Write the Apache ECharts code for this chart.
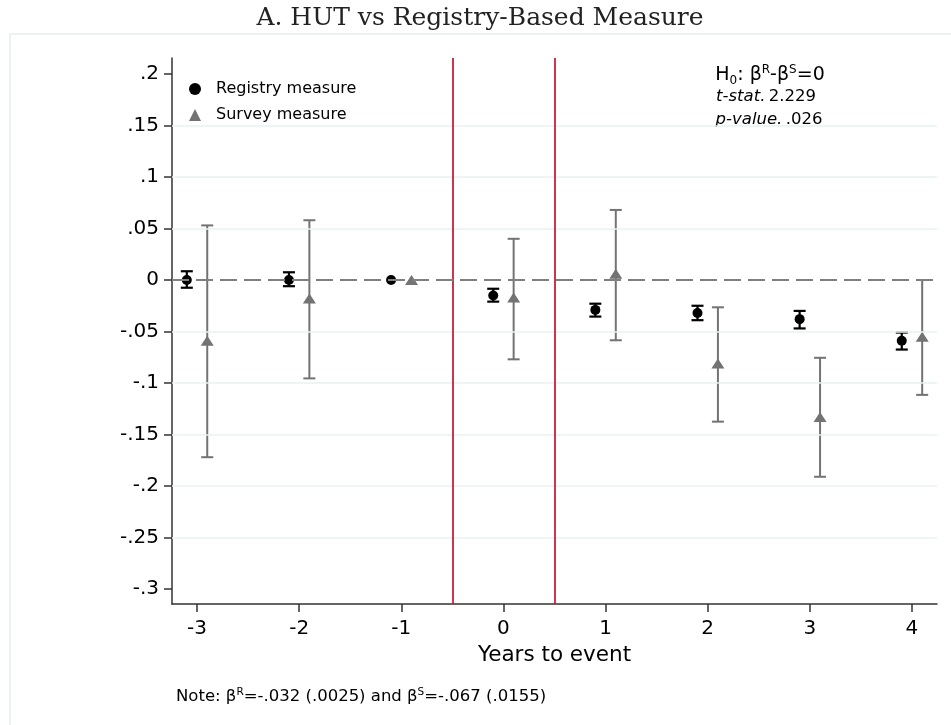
<!DOCTYPE html>
<html>
<head>
<meta charset="utf-8">
<title>HUT vs Registry-Based Measure</title>
<script src="https://cdn.jsdelivr.net/npm/echarts@6/dist/echarts.min.js"></script>
<style>
html, body { margin: 0; padding: 0; background: #fff; }
#chart_main { width: 951px; height: 725px; }
</style>
</head>
<body>
<div id="chart_main"></div>
<script>
// event-study coefficients
var years = [-3, -2, -1, 0, 1, 2, 3, 4];
var registryEst  = [0.000, 0.000, 0, -0.015, -0.029, -0.032, -0.038, -0.059];
var registryLow  = [-0.0075, -0.006, null, -0.0210, -0.0355, -0.0390, -0.0470, -0.0675];
var registryHigh = [0.0085, 0.0075, null, -0.0085, -0.0230, -0.0250, -0.0300, -0.0510];
var surveyEst  = [-0.059, -0.018, 0, -0.017, 0.006, -0.081, -0.133, -0.055];
var surveyLow  = [-0.172, -0.0955, null, -0.077, -0.0585, -0.1375, -0.191, -0.1115];
var surveyHigh = [0.053, 0.058, null, 0.040, 0.068, -0.0265, -0.0755, 0.000];

var yTicks = [-0.3, -0.25, -0.2, -0.15, -0.1, -0.05, 0, 0.05, 0.1, 0.15, 0.2];
var gridValues = [-0.25, -0.2, -0.15, -0.1, -0.05, 0.05, 0.1, 0.15];
var eventLines = [-0.5, 0.5];

var FONT = '"DejaVu Sans", "Liberation Sans", Arial, sans-serif';
var SHIFT = 0.1;
var BLACK = '#000000';
var GREY = '#737373';

function stataNum(v) {
  if (v === 0) return '0';
  return String(v).replace('0.', '.');
}

function pointData(est, dx) {
  return years.map(function (yr, i) { return [yr + dx, est[i]]; });
}
function barData(lo, hi, dx) {
  var out = [];
  years.forEach(function (yr, i) {
    if (lo[i] !== null) out.push([yr + dx, lo[i], hi[i]]);
  });
  return out;
}
function makeBarRenderer(color, width) {
  return function (params, api) {
    var lo = api.coord([api.value(0), api.value(1)]);
    var hi = api.coord([api.value(0), api.value(2)]);
    var half = 6;
    var style = { stroke: color, lineWidth: width };
    return {
      type: 'group',
      children: [
        { type: 'line', shape: { x1: lo[0], y1: lo[1], x2: hi[0], y2: hi[1] }, style: style },
        { type: 'line', shape: { x1: lo[0] - half, y1: lo[1], x2: lo[0] + half, y2: lo[1] }, style: style },
        { type: 'line', shape: { x1: hi[0] - half, y1: hi[1], x2: hi[0] + half, y2: hi[1] }, style: style }
      ]
    };
  };
}

var chart = echarts.init(document.getElementById('chart_main'), null, { renderer: 'canvas' });

var option = {
  backgroundColor: '#ffffff',
  animation: false,
  textStyle: { fontFamily: FONT },
  grid: { left: 172, right: 14, top: 58, bottom: 121, containLabel: false },
  legend: {
    orient: 'vertical',
    left: 184,
    top: 76,
    itemGap: 10,
    itemWidth: 12,
    itemHeight: 12,
    selectedMode: false,
    textStyle: { fontSize: 16, color: '#000', fontFamily: FONT, padding: [0, 0, 0, 10] },
    data: [
      { name: 'Registry measure', icon: 'circle' },
      { name: 'Survey measure', icon: 'triangle' }
    ]
  },
  xAxis: {
    type: 'value',
    min: -3.245,
    max: 4.245,
    name: 'Years to event',
    nameLocation: 'middle',
    nameGap: 40,
    nameTextStyle: { fontSize: 21.5, color: '#000', fontFamily: FONT },
    axisLine: { show: true, onZero: false, lineStyle: { color: '#333', width: 1.5 } },
    axisTick: { show: true, length: 8, lineStyle: { color: '#333', width: 1.5 }, customValues: years },
    axisLabel: { fontSize: 20, color: '#000', margin: 15, customValues: years, formatter: function (v) { return String(v); } },
    splitLine: { show: false }
  },
  yAxis: {
    type: 'value',
    min: -0.3145,
    max: 0.2155,
    axisLine: { show: true, onZero: false, lineStyle: { color: '#333', width: 1.5 } },
    axisTick: { show: true, length: 8, lineStyle: { color: '#333', width: 1.5 }, customValues: yTicks },
    axisLabel: { fontSize: 20, color: '#000', margin: 13, customValues: yTicks, formatter: stataNum },
    splitLine: { show: false }
  },
  graphic: [
    {
      type: 'rect', z: -10, silent: true,
      shape: { x: 10, y: 34, width: 960, height: 720 },
      style: { fill: 'none', stroke: '#e6eef1', lineWidth: 1.5 }
    },
    {
      type: 'text', x: 480, y: 18,
      style: { text: 'A. HUT vs Registry-Based Measure', font: '25px "DejaVu Serif", serif', fill: '#222', textAlign: 'center', textVerticalAlign: 'middle' }
    },
    {
      // H0 line: tall main box so the small parts sit above/below it
      type: 'text', x: 770, y: 75,
      style: {
        text: '{m|H}{sub|0}{m|: β}{sup|R}{m|-β}{sup|S}{m|=0}',
        textAlign: 'center', textVerticalAlign: 'middle',
        rich: {
          m: { fontSize: 19, lineHeight: 23, fontFamily: FONT, fill: '#000' },
          sub: { fontSize: 12, lineHeight: 12, fontFamily: FONT, fill: '#000', verticalAlign: 'bottom' },
          sup: { fontSize: 12, lineHeight: 12, fontFamily: FONT, fill: '#000', verticalAlign: 'top' }
        }
      }
    },
    {
      type: 'text', x: 766, y: 97,
      style: {
        text: '{i|t-stat.} {n|2.229}', textAlign: 'center', textVerticalAlign: 'middle',
        rich: { i: { fontSize: 16.5, fontStyle: 'italic', fontFamily: FONT }, n: { fontSize: 16.5, fontFamily: FONT } }
      }
    },
    {
      type: 'text', x: 769, y: 120,
      style: {
        text: '{i|p-value.} {n|.026}', textAlign: 'center', textVerticalAlign: 'middle',
        rich: { i: { fontSize: 16.5, fontStyle: 'italic', fontFamily: FONT }, n: { fontSize: 16.5, fontFamily: FONT } }
      }
    },
    {
      type: 'text', x: 176, y: 697,
      style: {
        text: '{m|Note: β}{sup|R}{m|=-.032 (.0025) and β}{sup|S}{m|=-.067 (.0155)}',
        textAlign: 'left', textVerticalAlign: 'middle',
        rich: {
          m: { fontSize: 16.5, lineHeight: 21, fontFamily: FONT, fill: '#000' },
          sup: { fontSize: 10.5, lineHeight: 10.5, fontFamily: FONT, fill: '#000', verticalAlign: 'top' }
        }
      }
    }
  ],
  series: [
    {
      name: 'refs',
      type: 'line',
      data: [],
      z: 1,
      silent: true,
      markLine: {
        silent: true,
        symbol: 'none',
        label: { show: false },
        animation: false,
        data: gridValues.map(function (v) {
          return { yAxis: v, lineStyle: { color: '#eaf0f3', width: 1.5, type: 'solid' } };
        }).concat(eventLines.map(function (v) {
          return { xAxis: v, lineStyle: { color: '#c8203a', width: 1.8, type: 'solid' } };
        })).concat([
          { yAxis: 0, lineStyle: { color: '#808080', width: 2, type: [17, 7] } }
        ])
      }
    },
    {
      name: 'registryCI',
      type: 'custom',
      z: 3,
      renderItem: makeBarRenderer(BLACK, 2.2),
      data: barData(registryLow, registryHigh, -SHIFT)
    },
    {
      name: 'surveyCI',
      type: 'custom',
      z: 3,
      renderItem: makeBarRenderer(GREY, 2),
      data: barData(surveyLow, surveyHigh, SHIFT)
    },
    {
      name: 'Registry measure',
      type: 'scatter',
      z: 4,
      symbol: 'circle',
      symbolSize: 10,
      itemStyle: { color: BLACK, opacity: 1 },
      data: pointData(registryEst, -SHIFT)
    },
    {
      name: 'Survey measure',
      type: 'scatter',
      z: 4,
      symbol: 'triangle',
      symbolSize: [13, 10],
      itemStyle: { color: GREY, opacity: 1 },
      data: pointData(surveyEst, SHIFT)
    }
  ]
};

chart.setOption(option);
</script>
</body>
</html>
